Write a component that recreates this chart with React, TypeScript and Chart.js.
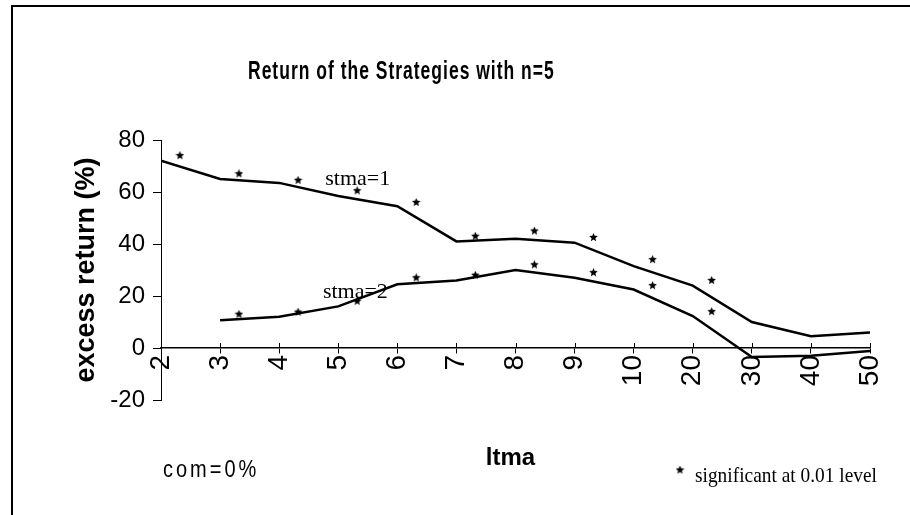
import React, { useEffect, useRef } from "react";
import { Chart, registerables } from "chart.js";

Chart.register(...registerables);

// ---- data ----
const xLabels = ["2", "3", "4", "5", "6", "7", "8", "9", "10", "20", "30", "40", "50"];
const stma1 = [72, 65, 63.5, 58.5, 54.5, 41, 42, 40.5, 31.5, 24, 10, 4.5, 6];
const stma2 = [null, 10.7, 12, 16, 24.5, 26, 30, 27, 22.5, 12.3, -3.5, -3, -1.2];
// significance markers (value at which the star is printed; null = not significant)
const stma1Sig = [74, 67, 64.5, 60.5, 56, 43, 45, 42.5, 34, 26, null, null, null];
const stma2Sig = [null, 13, 13.8, 18, 27, 28, 32, 29, 24, 14, null, null, null];
const yMin = -20;
const yMax = 80;
const yStep = 20;

const titleText = "Return of the Strategies with n=5";
const yTitle = "excess return (%)";
const xTitle = "ltma";
const comText = "com=0%";
const noteText = "significant at 0.01 level";
const label1 = "stma=1";
const label2 = "stma=2";

const SANS = "'Liberation Sans', Arial, sans-serif";
const SERIF = "'Liberation Serif', 'Times New Roman', serif";

function makeStar(size: number): HTMLCanvasElement {
  const c = document.createElement("canvas");
  c.width = size;
  c.height = size;
  const g = c.getContext("2d")!;
  const cx = size / 2;
  const cy = size / 2;
  const ro = size / 2;
  const ri = ro * 0.45;
  g.beginPath();
  for (let i = 0; i < 10; i++) {
    const r = i % 2 === 0 ? ro : ri;
    const a = -Math.PI / 2 + (i * Math.PI) / 5;
    const px = cx + r * Math.cos(a);
    const py = cy + r * Math.sin(a);
    if (i === 0) g.moveTo(px, py);
    else g.lineTo(px, py);
  }
  g.closePath();
  g.fillStyle = "#000";
  g.fill();
  return c;
}

const decor = {
  id: "decor",
  afterDraw(chart: any) {
    const ctx: CanvasRenderingContext2D = chart.ctx;
    const xs = chart.scales.x;
    const ys = chart.scales.y;
    const star: HTMLCanvasElement = chart.options.plugins.decor.star;
    ctx.save();
    // frame
    ctx.strokeStyle = "#000";
    ctx.lineWidth = 2;
    ctx.beginPath();
    ctx.moveTo(12, 515);
    ctx.lineTo(12, 6);
    ctx.lineTo(910, 6);
    ctx.stroke();

    // x-axis tick marks crossing the axis line (upper half)
    ctx.lineWidth = 1;
    const y0 = ys.getPixelForValue(0);
    for (let i = 1; i < xLabels.length; i++) {
      const px = Math.round(xs.getPixelForValue(i)) + 0.5;
      ctx.beginPath();
      ctx.moveTo(px, y0 - 5);
      ctx.lineTo(px, y0);
      ctx.stroke();
    }

    ctx.fillStyle = "#000";
    // title (tall, spaced glyphs as in the reference)
    ctx.save();
    ctx.font = `bold 17.5px ${SANS}`;
    (ctx as any).letterSpacing = "1px";
    ctx.textAlign = "left";
    ctx.textBaseline = "alphabetic";
    ctx.translate(248, 79);
    ctx.scale(1, 1.5);
    ctx.fillText(titleText, 0, 0);
    (ctx as any).letterSpacing = "0px";
    ctx.restore();

    // series labels
    ctx.font = `22px ${SERIF}`;
    ctx.textAlign = "left";
    ctx.textBaseline = "alphabetic";
    ctx.fillText(label1, xs.getPixelForValue(2.78), ys.getPixelForValue(62.7));
    ctx.fillText(label2, xs.getPixelForValue(2.74), ys.getPixelForValue(19.2));

    // x-axis title
    ctx.font = `bold 24px ${SANS}`;
    ctx.textAlign = "center";
    ctx.fillText(xTitle, (chart.chartArea.left + chart.chartArea.right) / 2 - 5, 465);

    // com=0%
    ctx.save();
    ctx.font = `20px ${SANS}`;
    ctx.textAlign = "left";
    (ctx as any).letterSpacing = "3px";
    ctx.translate(163, 477);
    ctx.scale(1, 1.15);
    ctx.fillText(comText, 0, 0);
    (ctx as any).letterSpacing = "0px";
    ctx.restore();

    // note
    ctx.drawImage(star, 680 - star.width / 2, 470 - star.height / 2);
    ctx.save();
    ctx.font = `19px ${SERIF}`;
    ctx.textAlign = "left";
    ctx.translate(695, 482);
    ctx.scale(1.02, 1.1);
    ctx.fillText(noteText, 0, 0);
    ctx.restore();
    ctx.restore();
  },
};

export default function App() {
  const ref = useRef<HTMLCanvasElement>(null);
  useEffect(() => {
    const canvas = ref.current;
    if (!canvas) return;
    const star = makeStar(9);
    const offset = 0.32;
    const line1 = stma1.map((v, i) => ({ x: i, y: v }));
    const line2 = stma2.map((v, i) => ({ x: i, y: v }));
    const sig1 = stma1Sig
      .map((v, i) => (v === null ? null : { x: i + offset, y: v }))
      .filter((p) => p !== null);
    const sig2 = stma2Sig
      .map((v, i) => (v === null ? null : { x: i + offset, y: v }))
      .filter((p) => p !== null);

    const chart = new Chart(canvas, {
      type: "line",
      data: {
        datasets: [
          {
            label: label1,
            data: line1 as any,
            borderColor: "#000",
            borderWidth: 2.5,
            pointRadius: 0,
            tension: 0,
            spanGaps: false,
          },
          {
            label: label2,
            data: line2 as any,
            borderColor: "#000",
            borderWidth: 2.5,
            pointRadius: 0,
            tension: 0,
            spanGaps: false,
          },
          {
            label: "sig1",
            data: sig1 as any,
            showLine: false,
            pointStyle: star as any,
            pointRadius: 4,
          },
          {
            label: "sig2",
            data: sig2 as any,
            showLine: false,
            pointStyle: star as any,
            pointRadius: 4,
          },
        ],
      },
      options: {
        responsive: false,
        animation: false,
        layout: { padding: { left: 0, top: 140, right: 40, bottom: 115 } },
        plugins: {
          legend: { display: false },
          tooltip: { enabled: false },
          title: { display: false },
          decor: { star } as any,
        } as any,
        scales: {
          x: {
            type: "linear",
            position: { y: 0 } as any,
            min: 0,
            max: xLabels.length - 1,
            grid: {
              drawOnChartArea: false,
              drawTicks: true,
              tickLength: 5,
              color: "#000",
              lineWidth: 1,
            },
            border: { display: true, color: "#000", width: 1.5 },
            ticks: {
              stepSize: 1,
              autoSkip: false,
              maxRotation: 90,
              minRotation: 90,
              padding: 2,
              color: "#000",
              font: { family: SANS, size: 28 },
              callback: (v: any) => xLabels[Math.round(Number(v))] ?? "",
            },
          },
          y: {
            type: "linear",
            position: "left",
            min: yMin,
            max: yMax,
            afterFit: (scale: any) => {
              scale.width = 161;
            },
            grid: {
              drawOnChartArea: false,
              drawTicks: true,
              tickLength: 8,
              color: "#000",
              lineWidth: 1,
            },
            border: { display: true, color: "#000", width: 1, dash: [5, 3, 1, 3] },
            ticks: {
              stepSize: yStep,
              padding: 8,
              color: "#000",
              font: { family: SANS, size: 24 },
            },
            title: {
              display: true,
              text: yTitle,
              color: "#000",
              font: { family: SANS, size: 27, weight: "bold" },
              padding: { top: 70, bottom: 0 },
            },
          },
        },
      },
      plugins: [decor as any],
    });
    return () => chart.destroy();
  }, []);

  return (
    <div style={{ position: "fixed", left: 0, top: 0, width: 910, height: 515, background: "#fff" }}>
      <canvas ref={ref} width={910} height={515} style={{ display: "block", width: 910, height: 515 }} />
    </div>
  );
}
